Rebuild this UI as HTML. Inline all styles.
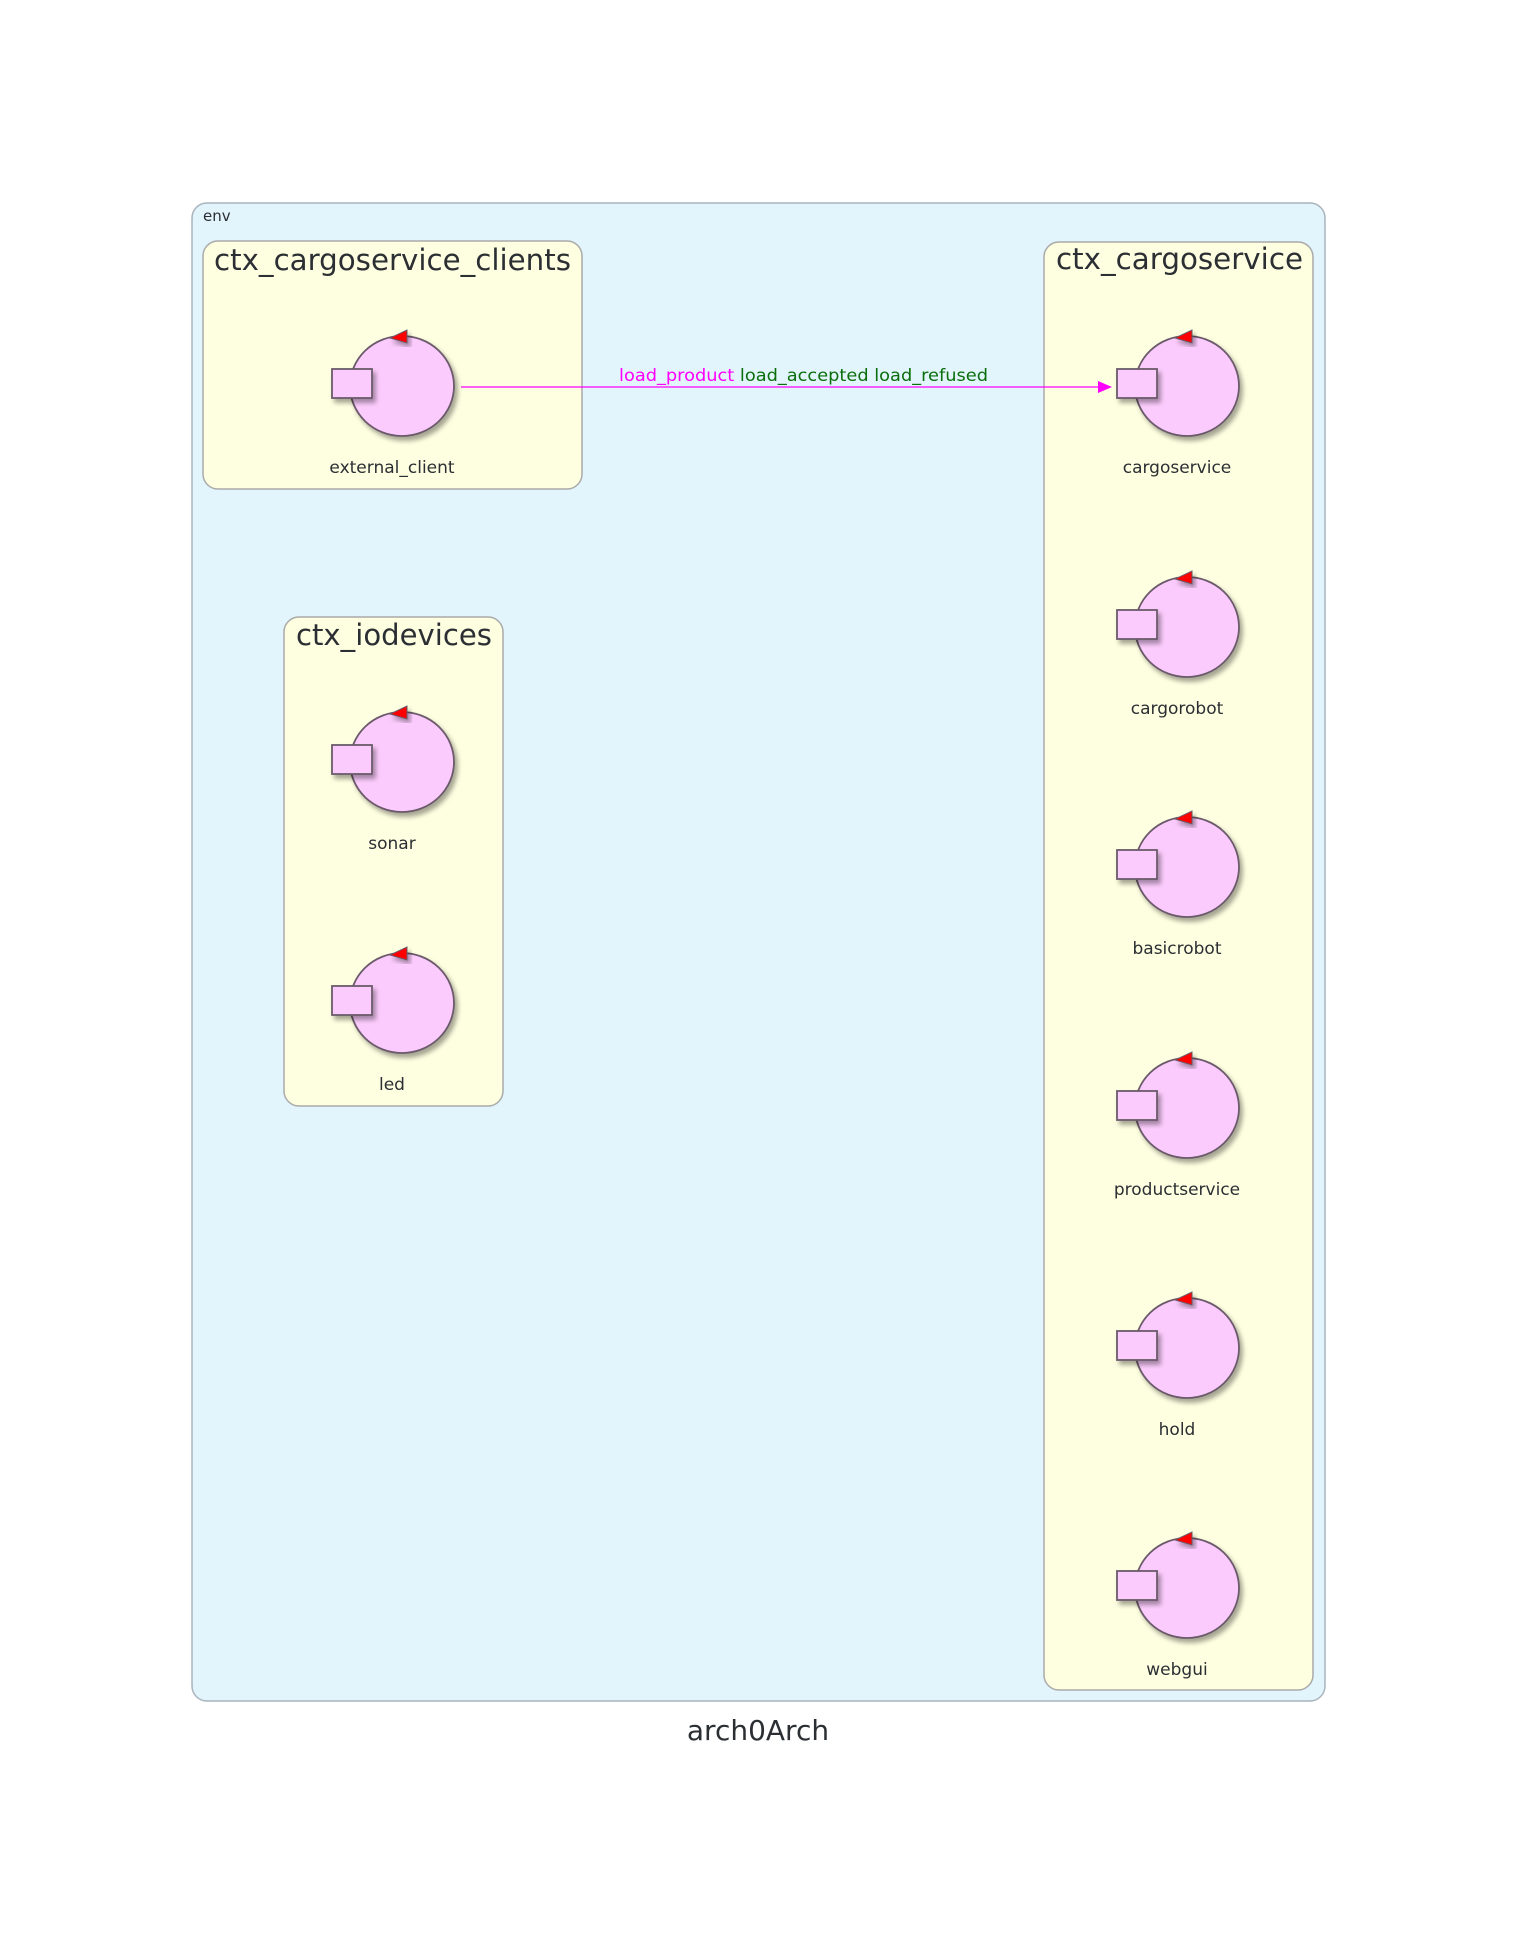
<!DOCTYPE html>
<html><head><meta charset="utf-8"><style>
html,body{margin:0;padding:0;background:#fff}
svg{display:block}
text{font-family:"DejaVu Sans","Liberation Sans",sans-serif}
</style></head><body>
<svg width="1516" height="1945" viewBox="0 0 1516 1945" xmlns="http://www.w3.org/2000/svg">
<defs>
<filter id="sh" x="-30%" y="-30%" width="160%" height="160%">
<feDropShadow dx="3" dy="4" stdDeviation="2.5" flood-color="#000" flood-opacity="0.35"/>
</filter>
<g id="actor">
<ellipse cx="0" cy="0" rx="52" ry="50" fill="#fccbfd" stroke="#6b5a6b" stroke-width="1.8" filter="url(#sh)"/>
<rect x="-70" y="-17" width="40" height="29" fill="#fccbfd" stroke="#6b5a6b" stroke-width="1.8" filter="url(#sh)"/>
<polygon points="5,-56 5,-43 -12,-48" fill="#f00" stroke="#6b5a6b" stroke-width="1" filter="url(#sh)"/>
</g>
</defs>
<rect x="192" y="203" width="1133" height="1498" rx="15" fill="#e2f4fc" stroke="#a9b4bd" stroke-width="1.5"/>
<text x="203" y="221" font-size="15" fill="#2b2f33">env</text>

<rect x="203" y="241" width="379" height="248" rx="15" fill="#fefee0" stroke="#aaaaaa" stroke-width="1.5"/>
<text x="214" y="270" font-size="29" fill="#2b2f33" textLength="357" lengthAdjust="spacingAndGlyphs">ctx_cargoservice_clients</text>

<rect x="284" y="617" width="219" height="489" rx="15" fill="#fefee0" stroke="#aaaaaa" stroke-width="1.5"/>
<text x="296" y="645" font-size="29" fill="#2b2f33" textLength="196" lengthAdjust="spacingAndGlyphs">ctx_iodevices</text>

<rect x="1044" y="242" width="269" height="1448" rx="15" fill="#fefee0" stroke="#aaaaaa" stroke-width="1.5"/>
<text x="1056" y="269" font-size="29" fill="#2b2f33" textLength="247" lengthAdjust="spacingAndGlyphs">ctx_cargoservice</text>

<g font-size="17" fill="#2b2f33" text-anchor="middle">
<use href="#actor" x="402" y="386"/>
<text x="392" y="473">external_client</text>
<use href="#actor" x="402" y="762"/>
<text x="392" y="849">sonar</text>
<use href="#actor" x="402" y="1003"/>
<text x="392" y="1090">led</text>

<use href="#actor" x="1187" y="386"/>
<text x="1177" y="473">cargoservice</text>
<use href="#actor" x="1187" y="627"/>
<text x="1177" y="714">cargorobot</text>
<use href="#actor" x="1187" y="867"/>
<text x="1177" y="954">basicrobot</text>
<use href="#actor" x="1187" y="1108"/>
<text x="1177" y="1195">productservice</text>
<use href="#actor" x="1187" y="1348"/>
<text x="1177" y="1435">hold</text>
<use href="#actor" x="1187" y="1588"/>
<text x="1177" y="1675">webgui</text>
</g>

<line x1="461" y1="387" x2="1098" y2="387" stroke="#ff00ff" stroke-width="1.2"/>
<polygon points="1098,381 1112,387 1098,393" fill="#ff00ff"/>
<text x="619" y="381" font-size="16.5" textLength="369" lengthAdjust="spacingAndGlyphs"><tspan fill="#ff00ff">load_product</tspan><tspan fill="#0a6e0a"> load_accepted load_refused</tspan></text>

<text x="758" y="1740" font-size="28" fill="#2b2f33" text-anchor="middle">arch0Arch</text>
</svg>
</body></html>
